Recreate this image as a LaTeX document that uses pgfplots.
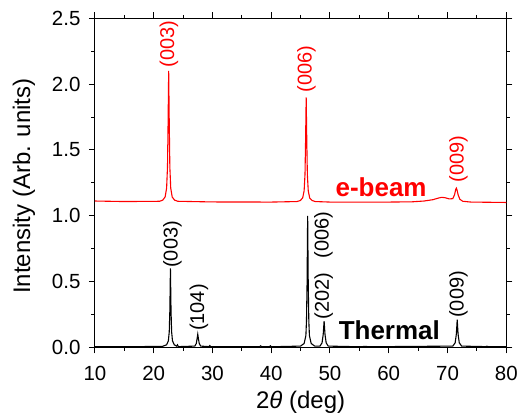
\documentclass[border=0pt]{standalone}
\usepackage{pgfplots}
\pgfplotsset{compat=1.18}
\usepackage{fontspec}
\setmainfont{Liberation Sans}
\begin{document}
\begin{tikzpicture}
\begin{axis}[
 scale only axis, width=411.7pt, height=329.4pt,
 xmin=10, xmax=80, ymin=0, ymax=2.5,
 xtick={10,20,...,80}, ytick={0,0.5,1.0,1.5,2.0,2.5},
 minor x tick num=1, minor y tick num=1,
 tick align=outside, tick pos=both,
 major tick length=6pt, minor tick length=3.5pt,
 every tick/.style={black, line width=1pt},
 axis line style={line width=1pt},
 /pgf/number format/assume math mode=true,
 tick label style={font=\fontsize{20.5}{24}\selectfont},
 xticklabel style={yshift=-9pt},
 yticklabel style={xshift=-5pt, /pgf/number format/.cd, fixed, fixed zerofill, precision=1},
 label style={font=\fontsize{24}{28}\selectfont},
 xlabel={2{\itshape θ} (deg)},
 ylabel={Intensity (Arb. units)},
 xlabel style={at={(axis description cs:0.5,-0.168)}, anchor=center},
 ylabel style={at={(axis description cs:-0.1725,0.49)}, anchor=center},
 clip=false,
]
\addplot[red, line width=1.1pt] coordinates {
(10,1.112) (15,1.108) (21.0,1.110) (21.55,1.119) (21.95,1.143) (22.2,1.21) (22.35,1.37) (22.45,1.70) (22.55,2.10) (22.65,1.70) (22.75,1.37) (22.9,1.21) (23.15,1.143) (23.55,1.119) (24.1,1.110)
(30,1.105) (40,1.104)
(44.4,1.108) (44.95,1.116) (45.35,1.135) (45.6,1.19) (45.75,1.315) (45.85,1.575) (45.95,1.90) (46.05,1.575) (46.15,1.315) (46.3,1.19) (46.55,1.135) (46.95,1.116) (47.5,1.108)
(50,1.104) (60,1.104) (64,1.106) (66,1.112) (67.5,1.122) (68.5,1.135) (69.0,1.140) (69.6,1.137) (70.3,1.128) (70.9,1.13) (71.2,1.16) (71.4,1.20) (71.5,1.21) (71.6,1.20) (71.8,1.16) (72.1,1.125) (72.6,1.11) (74,1.104) (80,1.101)
};
\addplot[black, line width=1.1pt] coordinates {
(10,0.006) (15,0.005) (21.5,0.008) (22.2,0.02) (22.5,0.05) (22.65,0.12) (22.75,0.28) (22.85,0.6) (22.95,0.28) (23.05,0.12) (23.2,0.05) (23.5,0.02) (23.9,0.01) (24.05,0.02) (24.2,0.006)
(27.0,0.01) (27.25,0.03) (27.4,0.07) (27.5,0.10) (27.6,0.07) (27.75,0.03) (28.0,0.01) (29.4,0.006) (29.55,0.014) (29.7,0.005)
(38.0,0.005) (38.2,0.012) (38.4,0.005) (39.7,0.005) (39.85,0.012) (40.0,0.005)
(45.0,0.01) (45.6,0.03) (45.9,0.09) (46.0,0.2) (46.1,0.48) (46.2,1.0) (46.3,0.48) (46.4,0.2) (46.5,0.09) (46.8,0.03) (47.4,0.01)
(48.3,0.01) (48.65,0.035) (48.85,0.1) (49.0,0.2) (49.15,0.1) (49.35,0.035) (49.7,0.01)
(55,0.005) (56.2,0.008) (56.4,0.005)
(70.9,0.01) (71.3,0.035) (71.5,0.1) (71.65,0.21) (71.8,0.1) (72.0,0.035) (72.4,0.01) (76.5,0.006) (76.7,0.009) (77,0.005) (80,0.005)
};
\begin{scope}[every node/.style={rotate=90, anchor=west, inner sep=0.5pt, font=\fontsize{20}{24}\selectfont}]
\node[red] at (axis cs:22.6,2.12) {(003)};
\node[red] at (axis cs:46.0,1.93) {(006)};
\node[red] at (axis cs:71.85,1.25) {(009)};
\node at (axis cs:23.2,0.60) {(003)};
\node at (axis cs:27.7,0.12) {(104)};
\node at (axis cs:48.9,0.67) {(006)};
\node at (axis cs:48.95,0.21) {(202)};
\node at (axis cs:71.85,0.22) {(009)};
\end{scope}
\node[red, font=\bfseries\fontsize{26}{30}\selectfont] at (axis cs:58.7,1.22) {e-beam};
\node[black, font=\bfseries\fontsize{26}{30}\selectfont] at (axis cs:60.1,0.13) {Thermal};
\end{axis}
\path (current axis.south west) ++(-95pt,-68.3pt);
\path (current axis.north east) ++(14.3pt,18.3pt);
\end{tikzpicture}
\end{document}
